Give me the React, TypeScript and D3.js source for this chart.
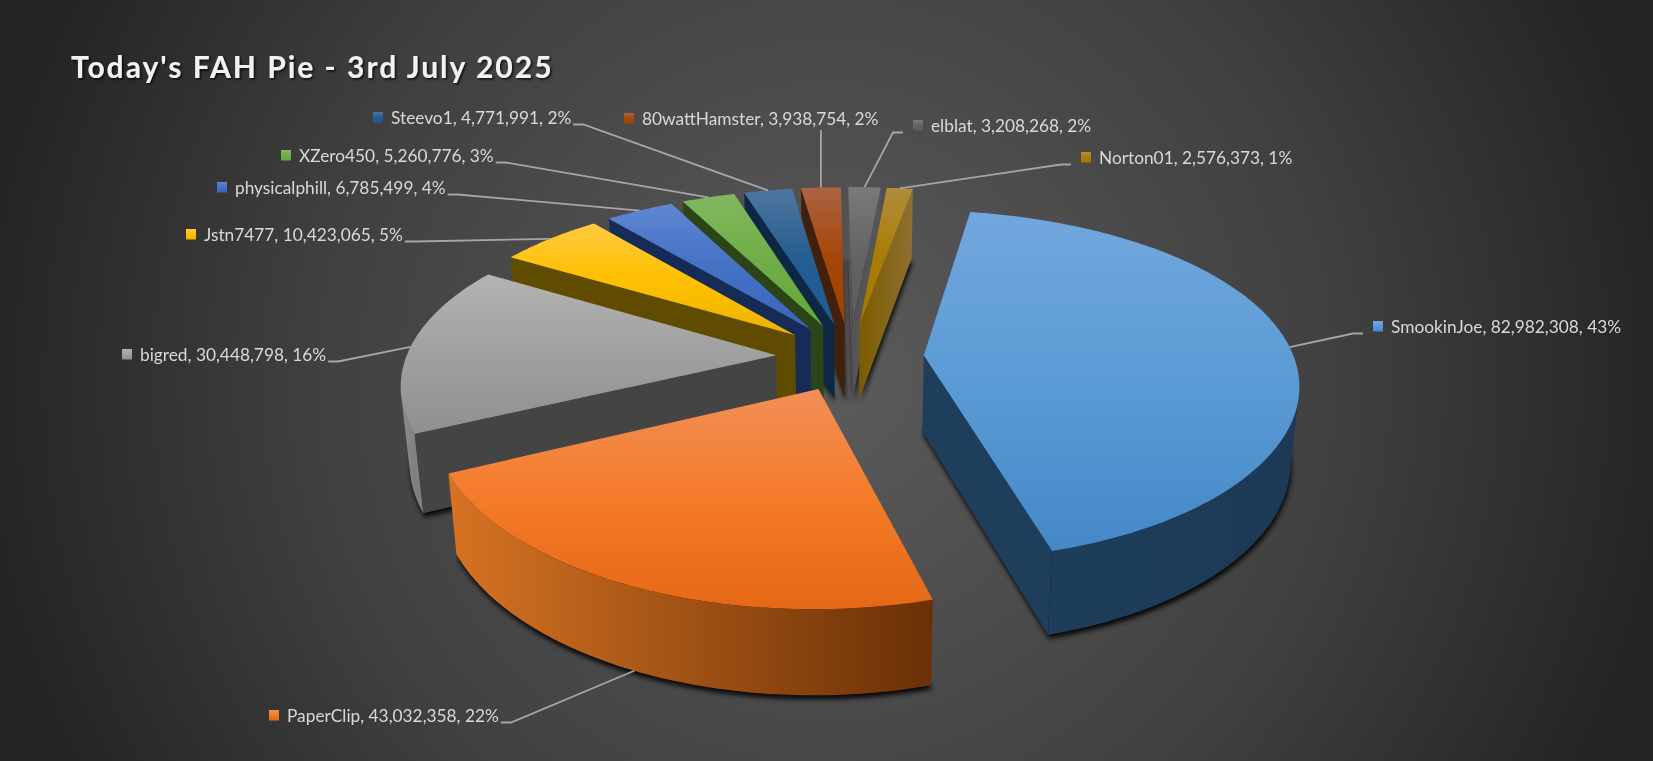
import React, { useEffect, useRef } from "react";
import * as d3 from "d3";

const names = ["SmookinJoe", "PaperClip", "bigred", "Jstn7477", "physicalphill", "XZero450", "Steevo1", "80wattHamster", "elblat", "Norton01"];
const points = [82982308, 43032358, 30448798, 10423065, 6785499, 5260776, 4771991, 3938754, 3208268, 2576373];

const topLight = ["#72a7de", "#f28f58", "#b3b3b3", "#ffca40", "#5f86d2", "#82b860", "#4f779f", "#ab6443", "#7a7a7a", "#b08d3d"];
const topBase = ["#5b9bd5", "#f47b28", "#a0a0a0", "#ffc000", "#4472c4", "#70ad47", "#255e91", "#a5470a", "#636363", "#a97c05"];
const topDark = ["#4488c8", "#e56815", "#8f8f8f", "#ecb400", "#3865bd", "#66a83a", "#1a5c98", "#a04000", "#5c5c5c", "#a87800"];
const wallLeft = ["#1e3d5a", "#d67322", "#8e8e8e", "#5f4c00", "#162b55", "#2b4519", "#0e2a47", "#43200b", "#555555", "#7d5b00"];
const wallRight = ["#1c3a56", "#6a3007", "#808080", "#5f4c00", "#162b55", "#2b4519", "#0e2a47", "#43200b", "#555555", "#8f7030"];
const cutFace = ["#1f3e5c", "#6a3007", "#444444", "#5f4c00", "#162b55", "#2b4519", "#0c2844", "#43200b", "#555555", "#7d5b00"];

// label text start + baseline, one per slice (same order as names)
const labelX = [1391, 287, 140, 204, 235, 299, 391, 642, 931, 1099];
const labelY = [333, 722, 361, 241, 194, 162, 124, 125, 132, 164];
// side the leader leaves the text from
const labelSide = ["left", "right", "right", "right", "right", "right", "right", "left", "left", "left"];

const W = 1653;
const H = 761;
const firstAngle = (10 * Math.PI) / 180;

// flat pie plane -> screen, with perspective
const cx = 850;
const cy = 357;
const radiusX = 370;
const radiusY = 170.5;
const perspX = 0.15;
const perspY = 0.17;
const explode = 0.2;

const project = (X: number, Y: number): [number, number] => [
  cx + (radiusX * X) / (1 + perspX * Y),
  cy - (radiusY * Y) / (1 + perspY * Y),
];
// top surface -> bottom surface of the pie
const drop = ([x, y]: [number, number]): [number, number] => [cx + (x - cx) * 0.98, y + 76 + 0.04 * (y - cy)];

const area = (pts: [number, number][]) => {
  let s = 0;
  pts.forEach((p, i) => {
    const q = pts[(i + 1) % pts.length];
    s += p[0] * q[1] - q[0] * p[1];
  });
  return s;
};

const App = () => {
  const svgRef = useRef<SVGSVGElement | null>(null);

  useEffect(() => {
    const svg = d3.select(svgRef.current);
    svg.selectAll("*").remove();

    const defs = svg.append("defs");

    const bg = defs.append("radialGradient").attr("id", "bg").attr("gradientUnits", "userSpaceOnUse")
      .attr("cx", 826).attr("cy", 380).attr("r", 850);
    bg.append("stop").attr("offset", 0).attr("stop-color", "#5b5b5b");
    bg.append("stop").attr("offset", 0.6).attr("stop-color", "#404040");
    bg.append("stop").attr("offset", 1).attr("stop-color", "#242424");

    defs.append("filter").attr("id", "blur").attr("x", "-10%").attr("y", "-10%").attr("width", "120%").attr("height", "120%")
      .append("feGaussianBlur").attr("stdDeviation", 2.5);

    defs.append("filter").attr("id", "titleShadow")
      .append("feDropShadow").attr("dx", 1.5).attr("dy", 1.5).attr("stdDeviation", 1.2)
      .attr("flood-color", "#000").attr("flood-opacity", 0.8);

    names.forEach((_, i) => {
      const g = defs.append("linearGradient").attr("id", `top${i}`).attr("x1", 0).attr("y1", 0).attr("x2", 0).attr("y2", 1);
      g.append("stop").attr("offset", 0).attr("stop-color", topLight[i]);
      g.append("stop").attr("offset", 0.5).attr("stop-color", topBase[i]);
      g.append("stop").attr("offset", 1).attr("stop-color", topDark[i]);
      const w = defs.append("linearGradient").attr("id", `cut${i}`).attr("x1", 0).attr("y1", 0).attr("x2", 1).attr("y2", 0);
      w.append("stop").attr("offset", 0).attr("stop-color", cutFace[i]);
      w.append("stop").attr("offset", 1).attr("stop-color", i === 9 ? wallRight[i] : cutFace[i]);
    });

    svg.append("rect").attr("width", W).attr("height", H).attr("fill", "url(#bg)");

    const total = d3.sum(points);
    const pie = d3.pie<number>().sort(null).startAngle(firstAngle).endAngle(firstAngle + 2 * Math.PI);
    const line = d3.line();

    const slices = pie(points).map((a, i) => {
      const mid = (a.startAngle + a.endAngle) / 2;
      const ox = explode * Math.sin(mid);
      const oy = explode * Math.cos(mid);
      const at = (t: number) => project(ox + Math.sin(t), oy + Math.cos(t));
      const n = Math.max(4, Math.ceil((a.endAngle - a.startAngle) / 0.015));
      const rim = d3.range(n + 1).map((k) => at(a.startAngle + ((a.endAngle - a.startAngle) * k) / n));
      return { i, mid, apex: project(ox, oy), rim, at };
    });

    // far slices first
    const ordered = [...slices].sort((p, q) => Math.cos(q.mid) - Math.cos(p.mid));

    const shadows = svg.append("g").attr("filter", "url(#blur)").attr("transform", "translate(1,4)");
    ordered.forEach((s) => {
      shadows.append("path").attr("fill", "#000").attr("fill-opacity", 0.9)
        .attr("d", line([s.apex, ...s.rim].map(drop)) + "Z");
    });

    const quad = (p: [number, number], q: [number, number]) => [p, q, drop(q), drop(p)] as [number, number][];

    ordered.forEach((s) => {
      const g = svg.append("g");
      const i = s.i;

      // radial cut faces
      const first = s.rim[0];
      const last = s.rim[s.rim.length - 1];
      [quad(s.apex, first), quad(last, s.apex)].forEach((f) => {
        if (area(f) < 0) g.append("path").attr("fill", `url(#cut${i})`).attr("d", line(f) + "Z");
      });

      // outer wall, only the rim segments facing us
      const segs = d3.pairs(s.rim).filter(([p, q]) => area(quad(p, q)) < 0);
      if (segs.length) {
        const top = [...segs.map((e) => e[0]), segs[segs.length - 1][1]];
        const xs = d3.extent(top, (p) => p[0]) as [number, number];
        const wg = defs.append("linearGradient").attr("id", `wall${i}`).attr("gradientUnits", "userSpaceOnUse")
          .attr("x1", xs[0]).attr("y1", 0).attr("x2", xs[1]).attr("y2", 0);
        wg.append("stop").attr("offset", 0).attr("stop-color", wallLeft[i]);
        wg.append("stop").attr("offset", 1).attr("stop-color", wallRight[i]);
        g.append("path").attr("fill", `url(#wall${i})`)
          .attr("d", line([...top, ...top.map(drop).reverse()]) + "Z");
      }

      g.append("path").attr("fill", `url(#top${i})`).attr("d", line([s.apex, ...s.rim]) + "Z");
    });

    // labels
    const fmt = d3.format(",");
    const pct = d3.format(".0%");
    const labels = svg.append("g").attr("font-family", "Lato").attr("font-size", 17.3).attr("fill", "#d9d9d9");
    slices.forEach((s) => {
      const i = s.i;
      const text = labels.append("text").attr("x", labelX[i]).attr("y", labelY[i])
        .text(`${names[i]}, ${fmt(points[i])}, ${pct(points[i] / total)}`);
      const width = (text.node() as SVGTextElement).getComputedTextLength();

      labels.append("rect").attr("x", labelX[i] - 18).attr("y", labelY[i] - 12).attr("width", 10).attr("height", 10.5)
        .attr("fill", `url(#top${i})`);

      const rimPoint = s.at(s.mid);
      // the PaperClip leader runs to the lower edge of the wall
      const end = i === 1 ? drop(rimPoint) : rimPoint;
      const startX = labelSide[i] === "right" ? labelX[i] + width + 2 : labelX[i] - 28;
      const kneeX = labelSide[i] === "right" ? startX + 10 : startX - 10;
      let leader: [number, number][] = [[startX, labelY[i] + 0.5], [kneeX, labelY[i] + 0.5], end];
      if (i === 7) leader = [[end[0], labelY[i] + 5], end];
      svg.append("path").attr("fill", "none").attr("stroke", "#a6a6a6").attr("stroke-width", 1.8).attr("d", line(leader));
    });

    svg.append("text").attr("x", 71).attr("y", 78).attr("font-family", "Lato").attr("font-weight", 700)
      .attr("font-size", 30).attr("letter-spacing", 2).attr("fill", "#f2f2f2").attr("filter", "url(#titleShadow)")
      .text("Today's FAH Pie - 3rd July 2025");
  }, []);

  return <svg ref={svgRef} width={W} height={H} style={{ position: "fixed", left: 0, top: 0 }} />;
};

export default App;
